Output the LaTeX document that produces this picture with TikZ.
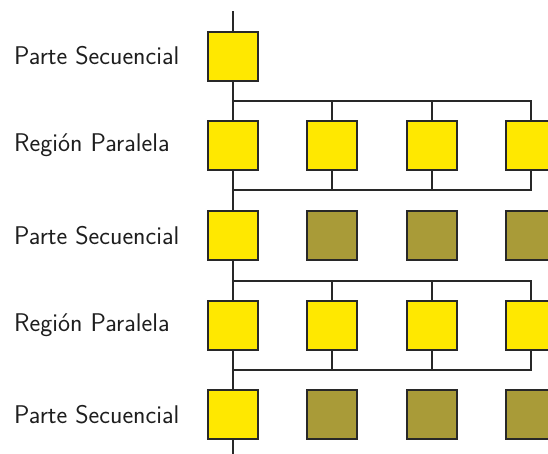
\RequirePackage{fix-cm}
\documentclass[tikz,border=0pt]{standalone}
\usepackage{tikz}
\definecolor{yel}{RGB}{255,232,0}
\definecolor{olv}{RGB}{169,155,56}
\definecolor{ln}{RGB}{40,40,40}
\definecolor{txt}{RGB}{30,30,30}
\begin{document}
\begin{tikzpicture}[x=1pt,y=-1pt,
  blk/.style={draw=ln,line width=2pt,minimum width=50pt,minimum height=49pt,inner sep=0pt,outer sep=0pt},
  yb/.style={blk,fill=yel},
  ob/.style={blk,fill=olv},
  wire/.style={draw=ln,line width=2pt},
  lbl/.style={anchor=west,inner sep=0pt,text=txt,font=\sffamily\fontsize{25.6}{30}\selectfont}]
\useasboundingbox (0,0) rectangle (548,453);
\clip (0,0) rectangle (548,453);
% labels
\node[lbl] (l1) at (14,56) {Parte Secuencial};
\node[lbl] (l2) at (14,145.5) {Región Paralela};
\node[lbl] (l3) at (14,236) {Parte Secuencial};
\node[lbl] (l4) at (14,325) {Región Paralela};
\node[lbl] (l5) at (14,414.5) {Parte Secuencial};
% coordinates
\coordinate (top) at (233,11);
\coordinate (bot) at (233,455);
\coordinate (f1) at (233,101);
\coordinate (j1) at (233,190);
\coordinate (f2) at (233,281);
\coordinate (j2) at (233,370);
% wires (drawn first)
\draw[wire] (top) -- (bot);
\foreach \c in {332,432,531}{
  \draw[wire] (\c,101) -- (\c,190);
  \draw[wire] (\c,281) -- (\c,370);
}
\draw[wire] (f1) -- (532,101);
\draw[wire] (j1) -- (532,190);
\draw[wire] (f2) -- (532,281);
\draw[wire] (j2) -- (532,370);
% boxes
\node[yb] (s1) at (233,56) {};
\node[yb] (p1a) at (233,145.5) {};
\node[yb] (p1b) at (332,145.5) {};
\node[yb] (p1c) at (432,145.5) {};
\node[yb] (p1d) at (531,145.5) {};
\node[yb] (s2) at (233,235) {};
\node[ob] (s2b) at (332,235) {};
\node[ob] (s2c) at (432,235) {};
\node[ob] (s2d) at (531,235) {};
\node[yb] (p2a) at (233,325) {};
\node[yb] (p2b) at (332,325) {};
\node[yb] (p2c) at (432,325) {};
\node[yb] (p2d) at (531,325) {};
\node[yb] (s3) at (233,414.5) {};
\node[ob] (s3b) at (332,414.5) {};
\node[ob] (s3c) at (432,414.5) {};
\node[ob] (s3d) at (531,414.5) {};
\end{tikzpicture}
\end{document}
